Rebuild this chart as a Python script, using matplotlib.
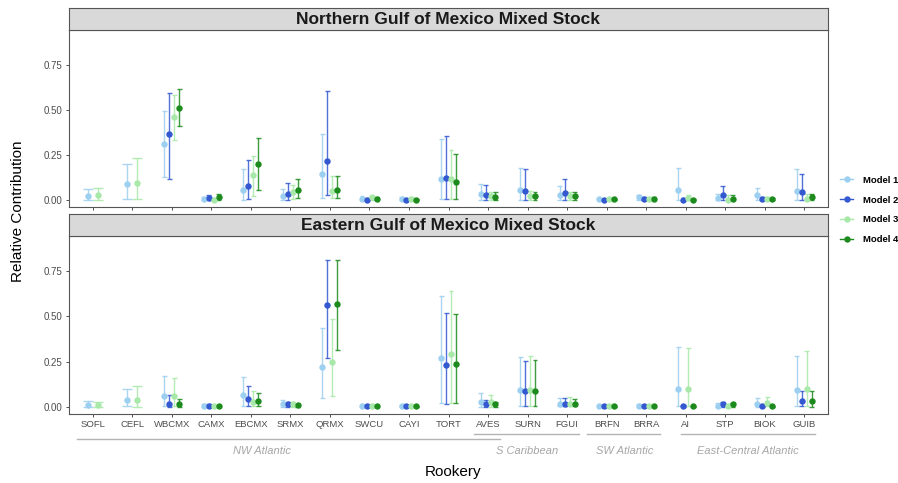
import numpy as np
import matplotlib
matplotlib.use("Agg")
import matplotlib.pyplot as plt
from matplotlib.lines import Line2D
from matplotlib.patches import Rectangle
from matplotlib.transforms import blended_transform_factory

plt.rcParams['font.family'] = ['Liberation Sans', 'DejaVu Sans']

nan = np.nan

rookeries = ['SOFL', 'CEFL', 'WBCMX', 'CAMX', 'EBCMX', 'SRMX', 'QRMX', 'SWCU', 'CAYI', 'TORT',
             'AVES', 'SURN', 'FGUI', 'BRFN', 'BRRA', 'AI', 'STP', 'BIOK', 'GUIB']
models = ['Model 1', 'Model 2', 'Model 3', 'Model 4']
panels = ['Northern Gulf of Mexico Mixed Stock', 'Eastern Gulf of Mexico Mixed Stock']

# Northern Gulf of Mexico - mean, lower, upper per model
north_m1 = [.020, .086, .308, .006, .054, .020, .142, .007, .006, .116, .032, .052, .026, .002, .013, .052, .011, .026, .050]
north_m1_lo = [0, .006, .127, 0, 0, 0, .011, 0, 0, .006, 0, 0, 0, 0, 0, 0, 0, 0, 0]
north_m1_hi = [.062, .200, .496, .018, .174, .062, .364, .020, .015, .336, .090, .179, .075, .008, .025, .179, .030, .067, .174]

north_m2 = [nan, nan, .367, .011, .077, .030, .218, .001, .001, .121, .026, .050, .037, .001, .006, .001, .026, .004, .041]
north_m2_lo = [nan, nan, .118, 0, .004, 0, .028, 0, 0, .006, 0, 0, 0, 0, 0, 0, 0, 0, 0]
north_m2_hi = [nan, nan, .597, .024, .224, .095, .606, .008, .006, .354, .082, .174, .118, .006, .015, .008, .078, .015, .142]

north_m3 = [.026, .095, .459, .001, .136, .043, .050, .013, .006, .118, .019, .020, .020, .002, .006, .009, .001, .006, .006]
north_m3_lo = [0, .006, .332, 0, .020, .007, .011, 0, 0, .006, 0, 0, 0, 0, 0, 0, 0, 0, 0]
north_m3_hi = [.067, .230, .582, .010, .243, .084, .130, .022, .014, .276, .045, .050, .045, .007, .015, .024, .024, .015, .030]

north_m4 = [nan, nan, .509, .017, .200, .056, .054, .006, .001, .100, .015, .019, .019, .002, .006, .001, .007, .004, .013]
north_m4_lo = [nan, nan, .412, 0, .056, .009, .011, 0, 0, .006, 0, 0, 0, 0, 0, 0, 0, 0, 0]
north_m4_hi = [nan, nan, .616, .030, .345, .118, .130, .015, .006, .257, .045, .045, .045, .006, .015, .006, .024, .012, .030]

# Eastern Gulf of Mexico
east_m1 = [.011, .037, .061, .007, .063, .013, .221, .006, .006, .271, .028, .092, .015, .002, .007, .096, .007, .015, .092]
east_m1_lo = [0, .006, .006, 0, .006, 0, .046, 0, 0, .020, 0, .006, .006, 0, 0, .006, 0, 0, .006]
east_m1_hi = [.033, .100, .168, .015, .162, .037, .435, .015, .012, .614, .076, .277, .050, .006, .015, .332, .020, .048, .282]

east_m2 = [nan, nan, .017, .007, .041, .013, .565, .002, .002, .231, .013, .087, .017, .002, .002, .002, .013, .002, .033]
east_m2_lo = [nan, nan, 0, 0, .006, 0, .268, 0, 0, .017, 0, .006, .006, 0, 0, 0, 0, 0, .006]
east_m2_hi = [nan, nan, .066, .015, .113, .024, .812, .008, .008, .520, .040, .253, .050, .006, .008, .008, .025, .008, .089]

east_m3 = [.011, .037, .057, .002, .024, .013, .245, .006, .006, .290, .024, .092, .017, .002, .007, .096, .002, .022, .096]
east_m3_lo = [0, 0, .006, 0, .006, 0, .061, 0, 0, .020, 0, .006, .011, 0, 0, .006, 0, .006, .006]
east_m3_hi = [.024, .113, .157, .008, .089, .028, .485, .015, .012, .640, .063, .280, .054, .006, .012, .327, .012, .052, .308]

east_m4 = [nan, nan, .013, .002, .031, .009, .570, .002, .002, .236, .013, .087, .017, .002, .002, .002, .013, .002, .031]
east_m4_lo = [nan, nan, 0, 0, .006, 0, .315, 0, 0, .020, 0, .006, .006, 0, 0, 0, 0, 0, 0]
east_m4_hi = [nan, nan, .042, .008, .076, .018, .812, .006, .006, .515, .025, .258, .045, .006, .006, .006, .022, .006, .087]

# region groups: (label, line start, line end, label centre, line height in figure px)
groups = [('NW Atlantic', 0.6, 11.3, 5.27, 439),
          ('S Caribbean', 10.65, 13.3, 12.0, 434),
          ('SW Atlantic', 13.5, 15.35, 14.45, 434),
          ('East-Central Atlantic', 15.87, 19.28, 17.57, 434)]

colors = ['#9ccff0', '#3358d0', '#a8e8a8', '#1c8a1c']

north = [(north_m1, north_m1_lo, north_m1_hi), (north_m2, north_m2_lo, north_m2_hi),
         (north_m3, north_m3_lo, north_m3_hi), (north_m4, north_m4_lo, north_m4_hi)]
east = [(east_m1, east_m1_lo, east_m1_hi), (east_m2, east_m2_lo, east_m2_hi),
        (east_m3, east_m3_lo, east_m3_hi), (east_m4, east_m4_lo, east_m4_hi)]

W, H = 898, 483
fig = plt.figure(figsize=(W / 100, H / 100), dpi=100)


def fbox(x0, y0, x1, y1):
    # pixel box (top-left origin) -> figure fraction rect
    return [x0 / W, 1 - y1 / H, (x1 - x0) / W, (y1 - y0) / H]


def draw_panel(ax, data):
    x = np.arange(1, len(rookeries) + 1)
    bars = []
    pts = []
    for i in range(len(rookeries)):
        present = [m for m in range(4) if not np.isnan(data[m][0][i])]
        w = 0.5 / len(present)
        for k, m in enumerate(present):
            xo = x[i] - 0.25 + w * (k + 0.5)
            bars.append((m, xo, w, data[m][1][i], data[m][2][i]))
            pts.append((m, xo, data[m][0][i]))
    for m, xo, w, lo, hi in bars:
        ax.vlines(xo, lo, hi, color=colors[m], lw=1.0, alpha=0.85)
        ax.hlines([lo, hi], xo - w / 2, xo + w / 2, color=colors[m], lw=1.0, alpha=0.85)
    for m, xo, v in pts:
        ax.plot(xo, v, 'o', color=colors[m], ms=4.6, mec='none')
    ax.set_xlim(0.4, len(rookeries) + 0.6)
    ax.set_ylim(-0.04, 0.945)
    ax.set_xticks(x)
    ax.set_yticks([0, 0.25, 0.5, 0.75])
    ax.set_yticklabels(['0.00', '0.25', '0.50', '0.75'])
    ax.tick_params(length=2.5, width=0.6, color='#333333', labelsize=7, labelcolor='#4d4d4d', pad=2)
    for s in ax.spines.values():
        s.set_color('#555555')
        s.set_linewidth(0.8)


def draw_strip(box, title):
    sx = fig.add_axes(fbox(*box))
    sx.add_patch(Rectangle((0, 0), 1, 1, transform=sx.transAxes, color='#d9d9d9'))
    sx.set_xticks([])
    sx.set_yticks([])
    for s in sx.spines.values():
        s.set_color('#555555')
        s.set_linewidth(0.8)
    sx.text(0.5, 0.48, title, ha='center', va='center', fontsize=12.5, fontweight='bold', color='#1a1a1a')


ax1 = fig.add_axes(fbox(69, 30, 828, 207))
draw_panel(ax1, north)
ax1.set_xticklabels([])
draw_strip((69, 8, 828, 30), panels[0])

ax2 = fig.add_axes(fbox(69, 236, 828, 414))
draw_panel(ax2, east)
ax2.set_xticklabels(rookeries, fontsize=6.8)
draw_strip((69, 214, 828, 236), panels[1])

# region brackets below the x labels
tr = blended_transform_factory(ax2.transData, fig.transFigure)
for label, x0, x1, xc, ypix in groups:
    ax2.plot([x0, x1], [1 - ypix / H] * 2, color='#b3b3b3', lw=1.0, transform=tr, clip_on=False)
    ax2.text(xc, 1 - 451 / H, label, transform=tr, ha='center', va='center',
             fontsize=8, style='italic', color='#a6a6a6')

fig.text(453 / W, 1 - 472 / H, 'Rookery', ha='center', va='center', fontsize=11)
fig.text(18 / W, 1 - 211 / H, 'Relative Contribution', ha='center', va='center',
         rotation=90, fontsize=11)

handles = [Line2D([0], [0], color=c, marker='o', ms=4.6, mec='none', lw=1.0) for c in colors]
fig.legend(handles, models, loc='center left', bbox_to_anchor=(840 / W, 1 - 210 / H),
           frameon=False, handlelength=1.4, labelspacing=1.15, borderpad=0, borderaxespad=0,
           prop={'weight': 'bold', 'size': 6.8}, handletextpad=1.0)

fig.savefig('out.png', dpi=100)
